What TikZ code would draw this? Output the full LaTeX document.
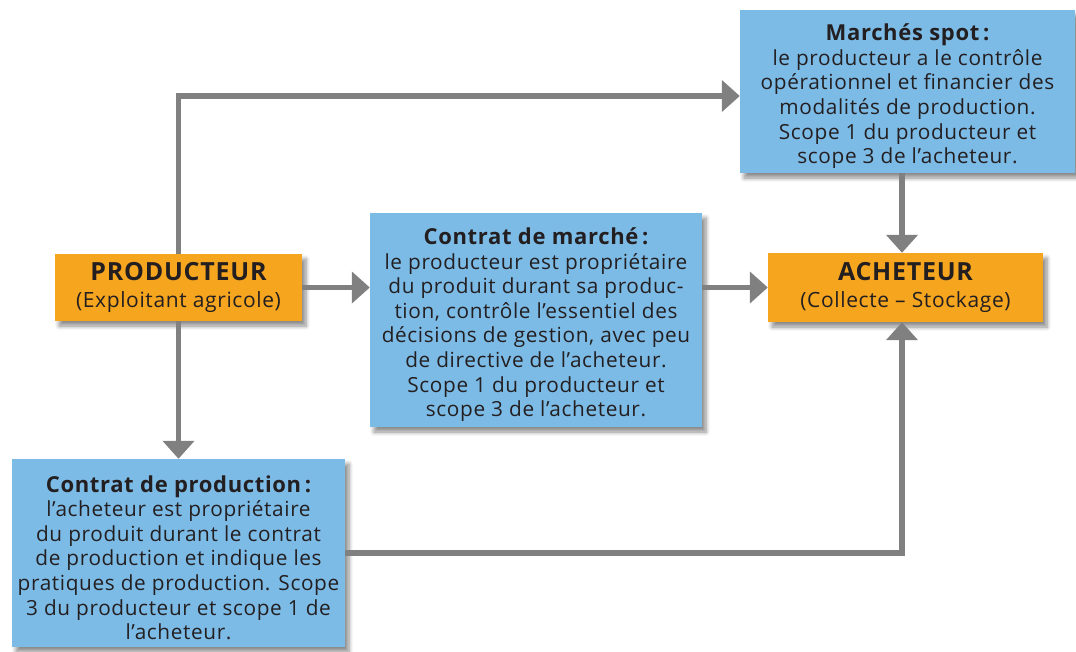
\documentclass[tikz,border=0pt]{standalone}
\usepackage{fontspec}
\setmainfont{Open Sans}
\newfontfamily\bodyfont{Open Sans}[LetterSpace=3]
\newfontfamily\wideheadfont{Open Sans}[LetterSpace=3]
\usetikzlibrary{arrows.meta,shadows.blur}
\definecolor{boxorange}{HTML}{F6A51F}
\definecolor{boxblue}{HTML}{7DBBE7}
\definecolor{linkgray}{HTML}{808080}
\definecolor{inkdark}{HTML}{231F20}
% bold heading line of a blue box, with a little room above it
\newcommand{\boxtitle}[1]{\mbox{}\\[1.6pt]{\fontsize{22}{24.6}\selectfont\bfseries #1}}
\newcommand{\actortitle}[1]{{\wideheadfont\fontsize{25}{28}\selectfont\bfseries #1}}
\newcommand{\fixedleading}{\lineskiplimit=-30pt\relax}
\begin{document}
\begin{tikzpicture}[x=1pt,y=-1pt,
  every node/.style={text=inkdark},
  boxbase/.style={rectangle, inner sep=0pt, align=center,
    blur shadow={shadow xshift=4pt, shadow yshift=-5pt, shadow blur steps=6,
      shadow blur radius=4pt, shadow opacity=45}},
  actor/.style={boxbase, fill=boxorange, font=\wideheadfont\fontsize{21}{27}\selectfont},
  detail/.style={boxbase, fill=boxblue,
    font=\bodyfont\fontsize{20.8}{24.6}\selectfont,
    execute at begin node=\fixedleading},
  link/.style={draw=linkgray, line width=5.5pt,
    -{Triangle[width=31pt,length=18pt]}}
]
\useasboundingbox (0,0) rectangle (1076,651);

\node[actor, minimum width=247pt, minimum height=67pt] (prod) at (178.5,287.5)
  {\actortitle{PRODUCTEUR}\\(Exploitant agricole)};
\node[actor, minimum width=275pt, minimum height=69pt] (ach) at (905.5,287.5)
  {\actortitle{ACHETEUR}\\(Collecte – Stockage)};

\node[detail, minimum width=335pt, minimum height=163pt] (spot) at (907.5,91.5)
  {\boxtitle{Marchés spot\,:}\\le producteur a le contrôle\\opérationnel et financier des\\modalités de production.\\Scope 1 du producteur et\\scope 3 de l’acheteur.};

\node[detail, minimum width=332pt, minimum height=214pt] (marche) at (536,320)
  {\boxtitle{Contrat de marché\,:}\\le producteur est propriétaire\\du produit durant sa produc-\\tion, contrôle l’essentiel des\\décisions de gestion, avec peu\\de directive de l’acheteur.\\Scope 1 du producteur et\\scope 3 de l’acheteur.};

\node[detail, minimum width=333pt, minimum height=188pt] (prodc) at (178.5,553)
  {\boxtitle{Contrat de production\,:}\\l’acheteur est propriétaire\\du produit durant le contrat\\de production et indique les\\pratiques de production. Scope\\3 du producteur et scope 1 de\\l’acheteur.};

% connectors
\coordinate (topturn) at (prod.north |- 0,96);
\coordinate (achin) at ([xshift=-3.5pt]ach.north);
\coordinate (achout) at ([xshift=-3.5pt]ach.south);
\draw[link] (prod.north) -- (topturn) -- (topturn -| spot.west);
\draw[link] (spot.south -| achin) -- (achin);
\draw[link] (prod.east) -- (prod.east -| marche.west);
\draw[link] (marche.east |- ach.west) -- (ach.west);
\draw[link] (prod.south) -- (prodc.north);
\draw[link] (prodc.east) -| (achout);
\end{tikzpicture}
\end{document}
